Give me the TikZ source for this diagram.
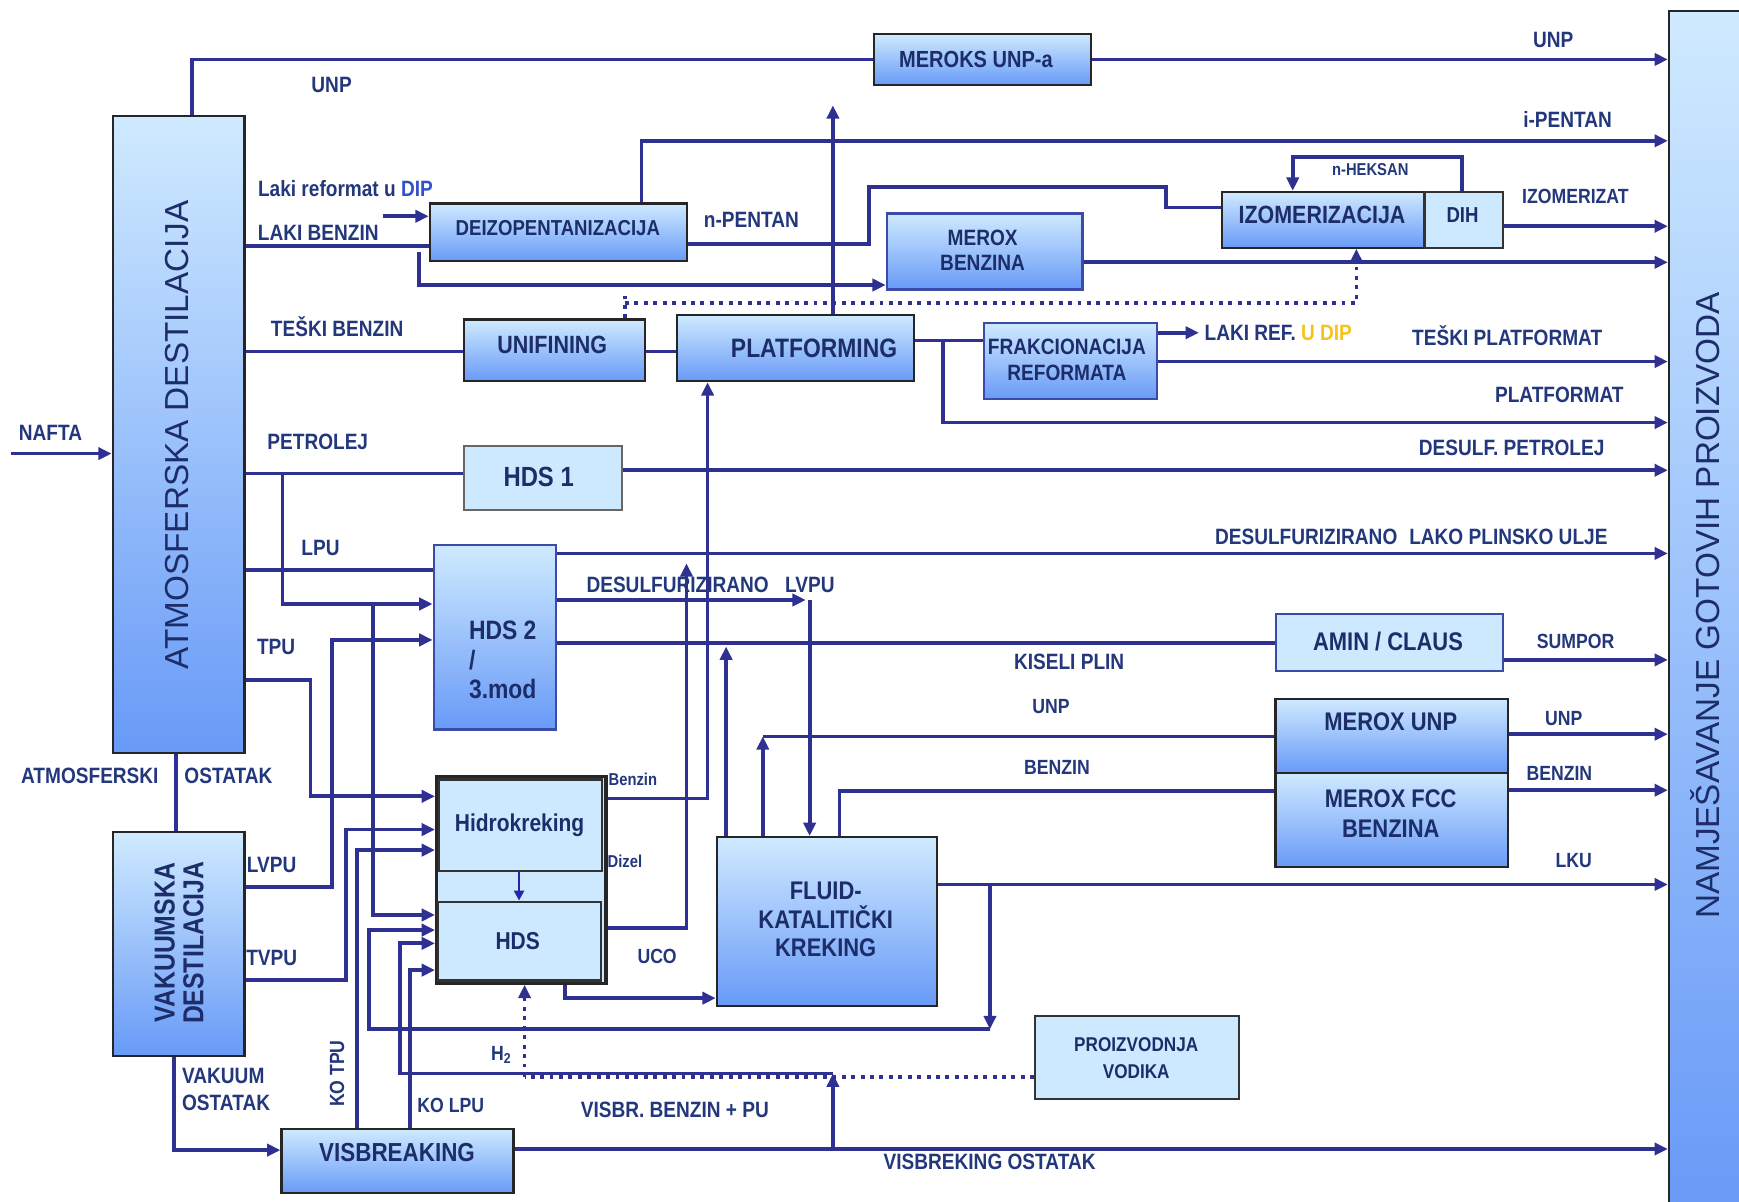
\documentclass[tikz,border=0pt]{standalone}
\usepackage{fontspec}
\setmainfont{Liberation Sans}[FakeStretch=0.86]
\newfontfamily\regfont{Liberation Sans}
\usetikzlibrary{arrows.meta}
\definecolor{lc}{RGB}{46,49,146}
\definecolor{tc}{RGB}{35,55,125}
\definecolor{btc}{RGB}{28,45,105}
\definecolor{gtop}{RGB}{207,234,255}
\definecolor{gbot}{RGB}{104,154,247}
\definecolor{lfill}{RGB}{204,233,255}
\definecolor{dipblue}{RGB}{50,80,200}
\definecolor{dipyel}{RGB}{247,194,26}
\definecolor{bdb}{RGB}{60,75,170}
\newcommand\lf{\fontsize{20}{22}\selectfont\bfseries}
\newcommand\lfmid{\fontsize{18.5}{20}\selectfont\bfseries}
\newcommand\lfsmall{\fontsize{15.5}{17}\selectfont\bfseries}
\newcommand\mkbox[6]{\node[#2, minimum width={#5pt-#3pt}, minimum height={#6pt-#4pt}, anchor=north west] (#1) at (#3,#4) {};}
\begin{document}
\begin{tikzpicture}[x=1pt,y=-1pt,
  flow/.style={draw=lc,line width=3.4pt,line join=miter},
  arr/.style={flow,-{Triangle[length=12pt,width=11pt]}},
  dotl/.style={draw=lc,line width=3.2pt,dash pattern=on 3.5pt off 5pt},
  gbox/.style={draw=black!85,line width=2pt,top color=gtop,bottom color=gbot,inner sep=0pt},
  lbox/.style={draw=black!80,line width=2pt,fill=lfill,inner sep=0pt},
  btxt/.style={text=btc,inner sep=0pt,align=center},
  lab/.style={text=tc,inner sep=0pt,font=\lf}]
\fill[white] (0,0) rectangle (1568,1083);
\useasboundingbox (0,0) rectangle (1568,1083);

% ---------- boxes ----------
\mkbox{atm}{gbox}{100.6}{103.7}{219.4}{677.8}
\mkbox{vak}{gbox}{100.6}{749}{219.4}{951.3}
\mkbox{nam}{gbox}{1503.8}{9}{1575}{1090}
\mkbox{meroks}{gbox}{787}{29.5}{982.6}{75.7}
\mkbox{deizo}{gbox}{386.5}{182.4}{618.7}{234.4}
\mkbox{mxb}{gbox,draw=bdb}{798.6}{191.5}{975}{260}
\mkbox{izom}{gbox}{1101}{172}{1283.5}{222.4}
\mkbox{dih}{lbox}{1283.5}{172}{1354}{222.4}
\mkbox{unif}{gbox}{417.5}{287}{580.8}{342.7}
\mkbox{plat}{gbox}{609.5}{283}{822.8}{342.7}
\mkbox{frak}{gbox,draw=bdb}{886.4}{290}{1042}{359}
\mkbox{hds1}{lbox,draw=black!60}{417.5}{401.3}{560}{459.2}
\mkbox{hds2}{gbox,draw=bdb}{390}{490.5}{500.4}{656.7}
\mkbox{amin}{lbox,draw=bdb}{1149.2}{552.4}{1354.3}{604}
\mkbox{mxu}{gbox}{1149}{629}{1359}{695.8}
\mkbox{mxf}{gbox}{1149}{695.8}{1359}{781}
\mkbox{hk}{lbox,line width=3pt,draw=black!85}{392.2}{698.8}{545}{885}
\mkbox{hkr}{lbox}{395}{701.8}{541.6}{784.5}
\mkbox{hds}{lbox}{393.7}{812}{541}{883}
\mkbox{fcc}{gbox}{645.3}{753.8}{843.8}{906}
\mkbox{pv}{lbox}{932.5}{915}{1116.5}{990}
\mkbox{vis}{gbox}{252.8}{1016.8}{462}{1074.6}

% ---------- box texts ----------
\node[btxt,rotate=90,font=\regfont\fontsize{30}{30}\selectfont] (tatm) at (160,392) {ATMOSFERSKA DESTILACIJA};
\node[btxt,rotate=90,font=\fontsize{26}{26}\selectfont\bfseries] (tvak) at (161.5,850) {VAKUUMSKA\\DESTILACIJA};
\node[btxt,rotate=90,font=\regfont\fontsize{30}{30}\selectfont] (tnam) at (1537,546) {NAMJEŠAVANJE GOTOVIH PROIZVODA};
\node[btxt,font=\fontsize{21}{23}\selectfont\bfseries] (tmeroks) at (880,54) {MEROKS UNP-a};
\node[btxt,font=\fontsize{19.5}{22}\selectfont\bfseries] (tdeizo) at (503,206) {DEIZOPENTANIZACIJA};
\node[btxt,font=\fontsize{20}{22.5}\selectfont\bfseries] (tmxb) at (886,226) {MEROX\\BENZINA};
\node[btxt,font=\fontsize{22.5}{24}\selectfont\bfseries] (tizom) at (1192,194) {IZOMERIZACIJA};
\node[btxt,font=\fontsize{19.5}{22}\selectfont\bfseries] (tdih) at (1318.7,194) {DIH};
\node[btxt,font=\fontsize{22.5}{24}\selectfont\bfseries] (tunif) at (498,311) {UNIFINING};
\node[btxt,font=\fontsize{24}{26}\selectfont\bfseries] (tplat) at (734,314) {PLATFORMING};
\node[btxt,font=\fontsize{20}{24}\selectfont\bfseries] (tfrak) at (962,324.5) {FRAKCIONACIJA\\REFORMATA};
\node[btxt,font=\fontsize{25}{27}\selectfont\bfseries] (thds1) at (485.7,430) {HDS 1};
\node[btxt,align=left,anchor=west,font=\fontsize{24}{27}\selectfont\bfseries] (thds2) at (422.7,595) {HDS 2\\/\\3.mod};
\node[btxt,font=\fontsize{23}{25}\selectfont\bfseries] (tamin) at (1251.5,578.6) {AMIN / CLAUS};
\node[btxt,font=\fontsize{23}{25}\selectfont\bfseries] (tmxu) at (1254,651) {MEROX UNP};
\node[btxt,font=\fontsize{23}{27}\selectfont\bfseries] (tmxf) at (1254,733.4) {MEROX FCC\\BENZINA};
\node[btxt,font=\fontsize{22}{24}\selectfont\bfseries] (thkr) at (468.5,744) {Hidrokreking};
\node[btxt,font=\fontsize{22}{24}\selectfont\bfseries] (thds) at (466.8,849) {HDS};
\node[btxt,font=\fontsize{23}{26}\selectfont\bfseries] (tfcc) at (744.5,829) {FLUID-\\KATALITIČKI\\KREKING};
\node[btxt,font=\fontsize{18}{24}\selectfont\bfseries] (tpv) at (1024.5,954) {PROIZVODNJA\\VODIKA};
\node[btxt,font=\fontsize{23.5}{25}\selectfont\bfseries] (tvis) at (358,1039.5) {VISBREAKING};

% ---------- connectors ----------
% NAFTA
\coordinate (nafta) at (10,409);
\draw[arr] (nafta) -- (atm.west |- nafta);
% UNP top
\draw[flow] (173,0 |- atm.north) |- (meroks.west);
\draw[arr] (meroks.east) -- (nam.west |- meroks.east);
% arrow up from platforming
\coordinate (upt) at (751,95);
\draw[arr] (plat.north -| upt) -- (upt);
% i-PENTAN
\draw[arr] (deizo.north -| 578.5,0) |- (nam.west |- 0,127);
% LAKI BENZIN
\draw[flow] (atm.east |- 0,222) -- (deizo.west |- 0,222);
% laki reformat u DIP
\coordinate (lrs) at (345,195);
\draw[arr] (lrs) -- (deizo.west |- lrs);
% bypass to MEROX BENZINA
\coordinate (bp) at (377.6,227);
\draw[arr] (bp) |- (mxb.west |- 0,257);
% n-PENTAN
\draw[flow] (deizo.east |- 0,220) -| (783.6,168.3) -| (1051,187) -- (izom.west |- 0,187);
% n-HEKSAN
\draw[arr] (dih.north -| 1318,0) |- (1165.6,141.3) -- (izom.north -| 1165.6,0);
% IZOMERIZAT
\draw[arr] (dih.east |- 0,204) -- (nam.west |- 0,204);
% MEROX BENZINA out
\draw[arr] (mxb.east |- 0,236.5) -- (nam.west |- 0,236.5);
% dotted H2 line to izomerizacija
\draw[dotl] (unif.north -| 563.6,0) -- (563.6,265);
\draw[dotl,-{Triangle[length=12pt,width=11pt]}] (563.6,273) -- (1223,273) -- (izom.south -| 1223,0);
% TEŠKI BENZIN
\draw[flow] (atm.east |- 0,317) -- (unif.west |- 0,317);
\draw[flow] (unif.east |- 0,317) -- (plat.west |- 0,317);
% platforming -> frakcionacija
\draw[flow] (plat.east |- 0,307) -- (frak.west |- 0,307);
\coordinate (pj) at (850,307);
\draw[arr] (pj) |- (nam.west |- 0,381);
% LAKI REF
\coordinate (lrf) at (1081,300);
\draw[arr] (frak.east |- lrf) -- (lrf);
% TEŠKI PLATFORMAT
\draw[arr] (frak.east |- 0,326) -- (nam.west |- 0,326);
% PETROLEJ
\draw[flow] (atm.east |- 0,427) -- (hds1.west |- 0,427);
\draw[arr] (hds1.east |- 0,424) -- (nam.west |- 0,424);
% branch to HDS2 and HDS
\coordinate (pb) at (254.7,427);
\draw[arr] (pb) |- (hds2.west |- 0,544.6);
\coordinate (pb2) at (336.6,544.6);
\draw[arr] (pb2) |- (hk.west |- 0,825);
% LPU
\draw[flow] (atm.east |- 0,514) -- (hds2.west |- 0,514);
% HDS2 outputs
\draw[arr] (hds2.east |- 0,499) -- (nam.west |- 0,499);
\coordinate (dl) at (726.5,541);
\draw[arr] (hds2.east |- dl) -- (dl);
\coordinate (dl2) at (730,541);
\draw[arr] (dl2) -- (fcc.north -| dl2);
\draw[flow] (hds2.east |- 0,580) -- (amin.west |- 0,580);
\draw[arr] (amin.east |- 0,595) -- (nam.west |- 0,595);
% TPU
\draw[arr] (atm.east |- 0,613) -| (280,718) -- (hk.west |- 0,718);
% atmosferski ostatak
\draw[flow] (atm.south -| 159,0) -- (vak.north -| 159,0);
% LVPU
\draw[arr] (vak.east |- 0,800) -| (299.5,577) -- (hds2.west |- 0,577);
% TVPU
\draw[arr] (vak.east |- 0,883.6) -| (312,748) -- (hk.west |- 0,748);
% KO TPU
\draw[arr] (vis.north -| 322,0) |- (hk.west |- 0,766.5);
% LKU
\draw[arr] (fcc.east |- 0,797.5) -- (nam.west |- 0,797.5);
\coordinate (lk1) at (892.6,797.5);
\coordinate (lk2) at (892.6,928);
\draw[arr] (lk1) -- (lk2);
\draw[arr] (lk2) -| (333,838.6) -- (hk.west |- 0,838.6);
% KO LPU
\draw[arr] (vis.north -| 369.5,0) |- (hk.west |- 0,874.7);
% VISBR. BENZIN + PU
\coordinate (vb1) at (751,1036);
\coordinate (vb2) at (751,968);
\draw[arr] (vb1) -- (vb2);
\draw[arr] (vb2) -| (361,850.6) -- (hk.west |- 0,850.6);
% visbreaking ostatak
\draw[arr] (vis.east |- vb1) -- (nam.west |- vb1);
% vakuum ostatak
\draw[arr] (vak.south -| 157,0) |- (vis.west |- 0,1037);
% hidrokreking -> HDS
\draw[draw=lc!80!blue,line width=2.4pt,-{Triangle[length=9pt,width=9pt]}] (hkr.south -| 468,0) -- (hds.north -| 468,0);
% Benzin -> platforming
\draw[arr] (hk.east |- 0,720) -| (plat.south -| 638,0);
% Dizel up
\draw[arr] (hk.east |- 0,837) -| (619,508);
% UCO
\draw[arr] (hk.south -| 509.7,0) |- (fcc.west |- 0,900);
% FCC to kiseli plin
\draw[arr] (fcc.north -| 654.7,0) -- (654.7,583);
% FCC UNP
\coordinate (fu) at (687.8,664);
\draw[arr] (fcc.north -| fu) -- (fu);
\draw[flow] (fu) -- (mxu.west |- fu);
% FCC BENZIN
\draw[flow] (fcc.north -| 757,0) |- (mxf.west |- 0,713.5);
\draw[arr] (mxu.east |- 0,662) -- (nam.west |- 0,662);
\draw[arr] (mxf.east |- 0,712.5) -- (nam.west |- 0,712.5);
% H2 dotted
\coordinate (h2) at (473,971);
\draw[dotl] (pv.west |- h2) -- (h2);
\draw[dotl,-{Triangle[length=12pt,width=11pt]}] (h2) -- (hk.south -| h2);

% ---------- labels ----------
\node[lab] (lnafta) at (45.5,390.7) {NAFTA};
\node[lab] (lunp1) at (299,76.6) {UNP};
\node[lab] (lunp2) at (1400.5,36) {UNP};
\node[lab] (lipen) at (1413.5,108) {i-PENTAN};
\node[lab] (llrdip) at (311.5,170) {Laki reformat u \textcolor{dipblue}{DIP}};
\node[lab] (llb) at (287,210) {LAKI BENZIN};
\node[lab] (lnpen) at (677.5,198.4) {n-PENTAN};
\node[lab,font=\lfsmall] (lnhek) at (1235.5,153) {n-HEKSAN};
\node[lab,font=\lfmid] (lizo) at (1420.5,177) {IZOMERIZAT};
\node[lab] (ltb) at (304,294.5) {TEŠKI BENZIN};
\node[lab,anchor=west] (llref) at (1086,300) {LAKI REF. \textcolor{dipyel}{U DIP}};
\node[lab] (ltp) at (1359,303) {TEŠKI PLATFORMAT};
\node[lab] (lplf) at (1406,356) {PLATFORMAT};
\node[lab] (lpet) at (286.5,398) {PETROLEJ};
\node[lab] (ldpet) at (1363,404) {DESULF. PETROLEJ};
\node[lab] (llpu) at (289,494) {LPU};
\node[lab] (ldlpu) at (1272.5,484) {DESULFURIZIRANO\hspace{6pt} LAKO PLINSKO ULJE};
\node[lab] (ldlvpu) at (640.7,527.5) {DESULFURIZIRANO\hspace{10pt} LVPU};
\node[lab] (ltpu) at (249,583) {TPU};
\node[lab] (lkis) at (964,596.6) {KISELI PLIN};
\node[lab,font=\lfmid] (lsum) at (1420.6,578.6) {SUMPOR};
\node[lab,font=\lfmid] (lunp3) at (947.7,637) {UNP};
\node[lab,font=\lfmid] (lunp4) at (1410,647.7) {UNP};
\node[lab,font=\lfmid] (lbenz1) at (953,692) {BENZIN};
\node[lab,font=\lfmid] (lbenz2) at (1406,697) {BENZIN};
\node[lab] (latm1) at (81,700) {ATMOSFERSKI};
\node[lab] (latm2) at (206,700) {OSTATAK};
\node[lab,font=\lfsmall] (lbenzs) at (570.6,703) {Benzin};
\node[lab] (llvpu) at (245,780) {LVPU};
\node[lab,font=\lfsmall] (ldiz) at (563.5,777) {Dizel};
\node[lab,font=\lfmid] (llku) at (1419,775.5) {LKU};
\node[lab,font=\lfmid] (luco) at (592.5,862.6) {UCO};
\node[lab] (ltvpu) at (245,864) {TVPU};
\node[lab,font=\lfmid,rotate=90] (lkotpu) at (304,968) {KO TPU};
\node[lab,font=\lfmid] (lh2) at (452,951) {H\textsubscript{2}};
\node[lab,anchor=west] (lvak1) at (164,970) {VAKUUM};
\node[lab,anchor=west] (lvak2) at (164,994) {OSTATAK};
\node[lab,font=\lfmid] (lkolpu) at (406.4,996.4) {KO LPU};
\node[lab] (lvbb) at (608.5,1000.3) {VISBR. BENZIN + PU};
\node[lab] (lvbo) at (892.3,1047.5) {VISBREKING OSTATAK};
\end{tikzpicture}
\end{document}
